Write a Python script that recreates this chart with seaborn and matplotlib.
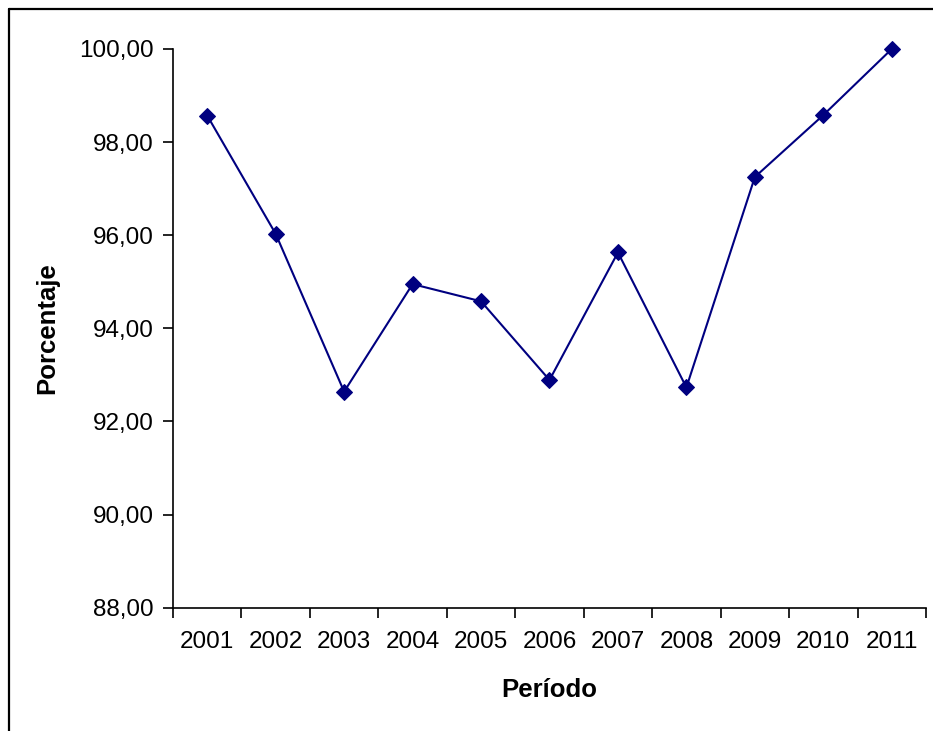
import matplotlib
matplotlib.use("Agg")
import matplotlib.pyplot as plt
from matplotlib.lines import Line2D
from matplotlib.ticker import FuncFormatter, FixedLocator, NullFormatter
import seaborn as sns
import pandas as pd

# Porcentaje anual por período
periodos = ["2001", "2002", "2003", "2004", "2005", "2006",
            "2007", "2008", "2009", "2010", "2011"]
porcentaje = [98.57, 96.03, 92.64, 94.95, 94.58, 92.89,
              95.63, 92.73, 97.25, 98.58, 100.00]
y_ticks = [88, 90, 92, 94, 96, 98, 100]

sns.set_style("ticks")
plt.rcParams["font.family"] = ["Liberation Sans", "DejaVu Sans"]
plt.rcParams["text.color"] = "black"
plt.rcParams["axes.labelcolor"] = "black"
plt.rcParams["xtick.color"] = "black"
plt.rcParams["ytick.color"] = "black"

df = pd.DataFrame({"Período": periodos, "Porcentaje": porcentaje})

fig = plt.figure(figsize=(9.33, 7.31), dpi=100)
ax = fig.add_axes([0.1854, 0.1687, 0.8071, 0.7643])

sns.lineplot(data=df, x="Período", y="Porcentaje", ax=ax,
             color="#000080", linewidth=1.5, marker="D",
             markersize=8, markeredgecolor="#000080", sort=False,
             clip_on=False)

n = len(periodos)
ax.set_xlim(-0.5, n - 0.5)
ax.set_ylim(88, 100)

# category boundaries carry the tick marks, labels sit in between
ax.xaxis.set_major_locator(FixedLocator([i - 0.5 for i in range(n + 1)]))
ax.xaxis.set_major_formatter(NullFormatter())
ax.set_xticks(list(range(n)), labels=periodos, minor=True)
ax.tick_params(axis="x", which="major", length=7, width=1.2, direction="out")
ax.tick_params(axis="x", which="minor", length=0, pad=17, labelsize=17.5)

ax.set_yticks(y_ticks)
ax.yaxis.set_major_formatter(FuncFormatter(lambda v, p: f"{v:.2f}".replace(".", ",")))
ax.tick_params(axis="y", length=7, width=1.2, direction="out",
               labelsize=17.5, pad=7)

for s in ["top", "right"]:
    ax.spines[s].set_visible(False)
for s in ["left", "bottom"]:
    ax.spines[s].set_color("black")
    ax.spines[s].set_linewidth(1.2)

ax.set_xlabel("Período", fontsize=18.5, fontweight="bold", labelpad=18)
ax.set_ylabel("Porcentaje", fontsize=18.5, fontweight="bold", labelpad=14)

# chart-area frame along the left and top edges
fx = 8.5 / 933
fy = 1 - 8.5 / 731
fig.add_artist(Line2D([fx, fx], [0, fy], transform=fig.transFigure,
                      color="black", linewidth=1.6))
fig.add_artist(Line2D([fx, 1], [fy, fy], transform=fig.transFigure,
                      color="black", linewidth=1.6))

fig.savefig("out.png", dpi=100)
